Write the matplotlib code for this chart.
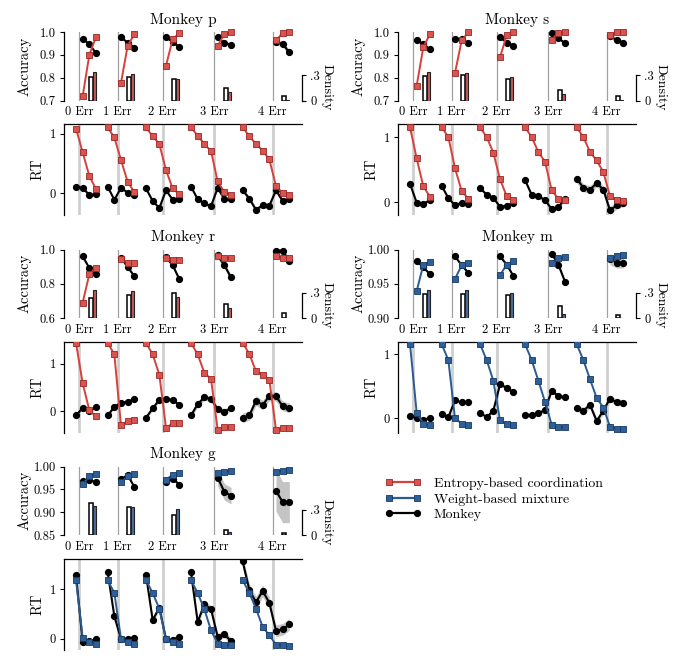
import matplotlib
matplotlib.use("Agg")
import matplotlib.pyplot as plt
import numpy as np
from matplotlib.lines import Line2D

plt.rcParams.update({
    "font.family": "serif",
    "font.serif": ["cmr10", "DejaVu Serif"],
    "mathtext.fontset": "cm",
    "axes.formatter.use_mathtext": True,
    "axes.unicode_minus": False,
    "axes.linewidth": 0.9,
})

# ── Data ─────────────────────────────────────────────────────────────────────
ERR_LABELS = ["0 Err", "1 Err", "2 Err", "3 Err", "4 Err"]

# Monkey p  (model: entropy-based coordination)
P_ACC_MODEL = [[0.719, 0.900, 0.978], [0.777, 0.940, 0.990], [0.852, 0.968, 0.996],
               [0.940, 0.990, 0.998], [0.963, 0.996, 0.998]]
P_ACC_MONKEY = [[0.970, 0.947, 0.907], [0.976, 0.954, 0.932], [0.978, 0.956, 0.933],
                [0.976, 0.951, 0.944], [0.956, 0.947, 0.911]]
P_ACC_SEM = [0.004, 0.004, 0.005, 0.006, 0.012]
P_DENS_MONKEY = [0.272, 0.280, 0.260, 0.148, 0.048]
P_DENS_MODEL = [0.340, 0.312, 0.260, 0.100, 0.010]
P_RT_MODEL = [[1.09, 0.69, 0.29, 0.07],
              [1.11, 0.94, 0.56, 0.19, 0.02],
              [1.11, 0.96, 0.83, 0.39, 0.08, -0.02],
              [1.11, 0.97, 0.83, 0.71, 0.20, 0.02, -0.03],
              [1.11, 0.96, 0.83, 0.72, 0.57, 0.12, 0.00, -0.03]]
P_RT_MONKEY = [[0.11, 0.09, -0.03, -0.02],
               [0.11, -0.11, 0.09, 0.01, -0.03],
               [0.08, -0.13, -0.25, 0.05, -0.11, -0.09],
               [0.11, -0.10, -0.17, -0.22, 0.09, -0.10, -0.10],
               [0.05, -0.09, -0.28, -0.20, -0.21, 0.05, -0.13, -0.09]]
P_RT_SEM = [0.02, 0.02, 0.02, 0.03, 0.04]

# Monkey s  (entropy-based)
S_ACC_MODEL = [[0.764, 0.934, 0.991], [0.821, 0.963, 0.999], [0.889, 0.985, 0.999],
               [0.966, 0.996, 0.999], [0.985, 0.999, 0.999]]
S_ACC_MONKEY = [[0.966, 0.947, 0.925], [0.970, 0.970, 0.951], [0.978, 0.954, 0.940],
                [0.996, 0.973, 0.951], [0.984, 0.963, 0.954]]
S_ACC_SEM = [0.004, 0.004, 0.005, 0.006, 0.010]
S_DENS_MONKEY = [0.292, 0.300, 0.252, 0.120, 0.048]
S_DENS_MODEL = [0.332, 0.320, 0.272, 0.080, 0.005]
S_RT_MODEL = [[1.15, 0.67, 0.24, 0.08],
              [1.15, 1.00, 0.52, 0.17, 0.05],
              [1.15, 1.00, 0.76, 0.35, 0.09, 0.03],
              [1.15, 1.00, 0.77, 0.62, 0.18, 0.05, 0.03],
              [1.15, 1.00, 0.77, 0.64, 0.46, 0.09, 0.03, 0.02]]
S_RT_MONKEY = [[0.28, -0.01, -0.03, 0.03],
               [0.25, 0.06, -0.05, -0.01, -0.03],
               [0.22, 0.11, 0.06, -0.07, -0.06, -0.01],
               [0.34, 0.11, 0.09, 0.03, -0.11, -0.08, 0.05],
               [0.36, 0.22, 0.19, 0.29, 0.19, -0.13, -0.05, -0.01]]
S_RT_SEM = [0.02, 0.02, 0.02, 0.03, 0.06]

# Monkey r  (entropy-based)
R_ACC_MODEL = [[0.690, 0.856, 0.894], [0.942, 0.921, 0.921], [0.952, 0.937, 0.937],
               [0.960, 0.950, 0.950], [0.962, 0.952, 0.952]]
R_ACC_MONKEY = [[0.960, 0.892, 0.856], [0.952, 0.898, 0.844], [0.956, 0.908, 0.827],
                [0.965, 0.908, 0.837], [0.994, 0.994, 0.931]]
R_ACC_SEM = [0.006, 0.010, 0.012, 0.016, 0.012]
R_DENS_MONKEY = [0.242, 0.277, 0.296, 0.162, 0.058]
R_DENS_MODEL = [0.335, 0.319, 0.250, 0.115, 0.005]
R_RT_MODEL = [[1.44, 0.59, 0.02, -0.11],
              [1.44, 1.20, -0.30, -0.21, -0.19],
              [1.44, 1.20, 0.77, -0.35, -0.26, -0.26],
              [1.44, 1.20, 0.81, 0.68, -0.39, -0.34, -0.34],
              [1.44, 1.21, 0.84, 0.77, 0.66, -0.39, -0.35, -0.35]]
R_RT_MONKEY = [[-0.09, 0.07, 0.00, 0.08],
               [-0.09, 0.09, 0.18, 0.20, 0.25],
               [-0.14, 0.06, 0.24, 0.25, 0.24, 0.13],
               [-0.09, 0.15, 0.29, 0.26, 0.04, -0.01, 0.06],
               [-0.14, -0.09, 0.22, 0.13, 0.32, 0.31, 0.11, 0.07]]
R_RT_SEM = [0.02, 0.03, 0.04, 0.06, 0.10]

# Monkey m  (model: weight-based mixture)
M_ACC_MODEL = [[0.939, 0.978, 0.982], [0.957, 0.977, 0.980], [0.9625, 0.978, 0.983],
               [0.981, 0.987, 0.989], [0.987, 0.990, 0.992]]
M_ACC_MONKEY = [[0.983, 0.974, 0.964], [0.990, 0.977, 0.966], [0.990, 0.978, 0.9615],
                [0.994, 0.978, 0.953], [0.9856, 0.981, 0.981]]
M_ACC_SEM = [0.0015, 0.002, 0.0025, 0.004, 0.008]
M_DENS_MONKEY = [0.288, 0.288, 0.270, 0.142, 0.031]
M_DENS_MODEL = [0.335, 0.327, 0.296, 0.050, 0.003]
M_RT_MODEL = [[1.16, 0.09, -0.08, -0.11],
              [1.16, 0.91, 0.00, -0.08, -0.10],
              [1.16, 0.91, 0.59, -0.03, -0.09, -0.11],
              [1.16, 0.91, 0.59, 0.26, -0.10, -0.13, -0.14],
              [1.16, 0.91, 0.61, 0.32, 0.17, -0.13, -0.16, -0.16]]
M_RT_MONKEY = [[0.04, 0.01, -0.02, 0.01],
               [0.07, 0.02, 0.28, 0.25, 0.26],
               [0.09, 0.02, 0.12, 0.53, 0.48, 0.41],
               [0.06, 0.05, 0.08, 0.13, 0.43, 0.35, 0.33],
               [0.16, 0.12, 0.21, -0.04, 0.12, 0.31, 0.25, 0.24]]
M_RT_SEM = [0.015, 0.02, 0.02, 0.03, 0.05]

# Monkey g  (weight-based)
G_ACC_MODEL = [[0.9606, 0.9785, 0.984], [0.965, 0.979, 0.984], [0.971, 0.982, 0.9856],
               [0.9856, 0.989, 0.991], [0.989, 0.991, 0.9928]]
G_ACC_MONKEY = [[0.968, 0.971, 0.965], [0.972, 0.981, 0.9555], [0.965, 0.9734, 0.9605],
                [0.9756, 0.9447, 0.936], [0.947, 0.922, 0.922]]
G_ACC_SEM = [0.002, 0.003, 0.003, 0.018, 0.045]
G_DENS_MONKEY = [0.377, 0.327, 0.241, 0.058, 0.019]
G_DENS_MODEL = [0.339, 0.331, 0.311, 0.039, 0.003]
G_RT_MODEL = [[1.19, 0.02, -0.07, -0.10],
              [1.19, 0.93, 0.00, -0.07, -0.10],
              [1.19, 0.93, 0.61, -0.01, -0.07, -0.10],
              [1.19, 0.93, 0.60, 0.17, -0.10, -0.12, -0.13],
              [1.19, 0.93, 0.61, 0.24, 0.07, -0.12, -0.13, -0.15]]
G_RT_MONKEY = [[1.29, -0.07, -0.05, -0.01],
               [1.35, 0.46, -0.01, 0.00, 0.02],
               [1.30, 0.38, 0.63, -0.01, -0.03, 0.04],
               [1.35, 0.34, 0.70, 0.60, 0.04, 0.09, -0.05],
               [1.57, 0.99, 0.74, 0.97, 0.73, 0.16, 0.19, 0.29]]
G_RT_SEM = [0.03, 0.04, 0.05, 0.07, 0.12]

# ── Style ─────────────────────────────────────────────────────────────────────
C_RED = "#d8403c"
C_RED_FACE = "#d9534f"
C_RED_EDGE = "#9a2624"
C_RED_BAR = "#c55a56"
C_BLUE = "#2b5b93"
C_BLUE_FACE = "#2f5f98"
C_BLUE_EDGE = "#173a63"
C_BLUE_BAR = "#4c6f9c"
C_BAND = "#c4c4c4"

TICK_FS = 9
LABEL_FS = 10.5
TITLE_FS = 11

XLIM = (-2.3, 33.4)
DENS_TOP = 0.81

# group separator positions (vertical lines); each group widens by one trial
OFFSETS = [0.0]
for k in range(4):
    OFFSETS.append(OFFSETS[-1] + k + 5.75)

W_FIG, H_FIG = 678, 663


def px_axes(left, top, width, height):
    return [left / W_FIG, 1 - (top + height) / H_FIG, width / W_FIG, height / H_FIG]


def model_style(kind):
    if kind == "entropy":
        return dict(color=C_RED, mfc=C_RED_FACE, mec=C_RED_EDGE), C_RED_BAR
    return dict(color=C_BLUE, mfc=C_BLUE_FACE, mec=C_BLUE_EDGE), C_BLUE_BAR


def draw_monkey(left, top, name, kind, acc_model, acc_monkey, acc_sem,
                dens_monkey, dens_model, rt_model, rt_monkey, rt_sem,
                acc_ylim, acc_ticks, acc_ticklabels, rt_ylim, fig):
    width = 238
    lstyle, bar_color = model_style(kind)

    # ── Accuracy panel ───────────────────────────────────────────────────────
    ax = fig.add_axes(px_axes(left, top, width, 68.5))
    ax2 = ax.twinx()
    ax.set_zorder(ax2.get_zorder() + 1)
    ax.patch.set_visible(False)

    for k, o in enumerate(OFFSETS):
        ax.axvline(o, color="#a0a0a0", lw=0.9, zorder=0)
        xs = o + np.array([0.5, 1.5, 2.5])
        m = np.array(acc_monkey[k])
        ax.fill_between(xs, m - acc_sem[k], m + acc_sem[k], color=C_BAND,
                        lw=0, zorder=1)
        ax.plot(xs, m, "-o", color="black", ms=4.2, lw=1.5, zorder=3,
                clip_on=False)
        ax.plot(xs, acc_model[k], "-s", ms=4.3, lw=1.4, mew=0.6, zorder=4,
                clip_on=False, **lstyle)

        ax2.bar(o + 1.72, dens_monkey[k], width=0.52, color="white",
                edgecolor="black", lw=1.1, zorder=2)
        ax2.bar(o + 2.24, dens_model[k], width=0.52, color=bar_color,
                edgecolor="#222222", lw=0.8, zorder=2)

    ax.set_xlim(*XLIM)
    ax.set_ylim(*acc_ylim)
    ax.set_yticks(acc_ticks)
    ax.set_yticklabels(acc_ticklabels)
    ax.set_xticks(OFFSETS)
    ax.set_xticklabels(ERR_LABELS)
    ax.tick_params(axis="x", length=0, pad=4, labelsize=TICK_FS)
    ax.tick_params(axis="y", length=3, width=0.8, pad=3, labelsize=TICK_FS)
    for s in ["top", "right", "bottom"]:
        ax.spines[s].set_visible(False)
    ax.set_ylabel("Accuracy", fontsize=LABEL_FS)
    ax.yaxis.set_label_coords(-0.135, 0.5)
    ax.set_title(f"Monkey {name}", fontsize=TITLE_FS, pad=6)

    ax2.set_xlim(*XLIM)
    ax2.set_ylim(0, DENS_TOP)
    for s in ["top", "left", "bottom"]:
        ax2.spines[s].set_visible(False)
    ax2.spines["right"].set_bounds(0, 0.3)
    ax2.set_yticks([0, 0.3])
    ax2.set_yticklabels(["0", ".3"])
    ax2.tick_params(axis="y", length=3, width=0.8, pad=3, labelsize=TICK_FS)
    ax2.set_ylabel("Density", fontsize=LABEL_FS - 0.5, rotation=270,
                   va="bottom")
    ax2.yaxis.set_label_coords(1.08, 0.19)

    # ── RT panel ─────────────────────────────────────────────────────────────
    axr = fig.add_axes(px_axes(left, top + 92, width, 91))
    for k, o in enumerate(OFFSETS):
        axr.axvline(o, color="#cfcfcf", lw=2.0, zorder=0)
        xs = o + np.arange(-(k + 1), 3) + 0.5
        m = np.array(rt_monkey[k])
        axr.fill_between(xs, m - rt_sem[k], m + rt_sem[k], color=C_BAND,
                         lw=0, zorder=1)
        axr.plot(xs, m, "-o", color="black", ms=4.2, lw=1.5, zorder=3)
        axr.plot(xs, rt_model[k], "-s", ms=4.3, lw=1.4, mew=0.6, zorder=4,
                 **lstyle)

    axr.set_xlim(*XLIM)
    axr.set_ylim(*rt_ylim)
    axr.set_xticks([])
    axr.set_yticks([0, 1])
    axr.set_yticklabels(["0", "1"])
    axr.tick_params(axis="y", length=3, width=0.8, pad=3, labelsize=TICK_FS)
    for s in ["right", "bottom"]:
        axr.spines[s].set_visible(False)
    axr.set_ylabel("RT", fontsize=LABEL_FS)
    axr.yaxis.set_label_coords(-0.08, 0.5)


fig = plt.figure(figsize=(6.78, 6.63), dpi=100)
fig.patch.set_facecolor("white")

LEFT_A, LEFT_B = 64, 398

draw_monkey(LEFT_A, 32, "p", "entropy", P_ACC_MODEL, P_ACC_MONKEY, P_ACC_SEM,
            P_DENS_MONKEY, P_DENS_MODEL, P_RT_MODEL, P_RT_MONKEY, P_RT_SEM,
            (0.7, 1.0), [0.7, 0.8, 0.9, 1.0], ["0.7", "0.8", "0.9", "1.0"],
            (-0.367, 1.167), fig)
draw_monkey(LEFT_B, 32, "s", "entropy", S_ACC_MODEL, S_ACC_MONKEY, S_ACC_SEM,
            S_DENS_MONKEY, S_DENS_MODEL, S_RT_MODEL, S_RT_MONKEY, S_RT_SEM,
            (0.7, 1.0), [0.7, 0.8, 0.9, 1.0], ["0.7", "0.8", "0.9", "1.0"],
            (-0.2, 1.2), fig)
draw_monkey(LEFT_A, 249.5, "r", "entropy", R_ACC_MODEL, R_ACC_MONKEY, R_ACC_SEM,
            R_DENS_MONKEY, R_DENS_MODEL, R_RT_MODEL, R_RT_MONKEY, R_RT_SEM,
            (0.6, 1.0), [0.6, 0.8, 1.0], ["0.6", "0.8", "1.0"],
            (-0.45, 1.47), fig)
draw_monkey(LEFT_B, 249.5, "m", "weight", M_ACC_MODEL, M_ACC_MONKEY, M_ACC_SEM,
            M_DENS_MONKEY, M_DENS_MODEL, M_RT_MODEL, M_RT_MONKEY, M_RT_SEM,
            (0.9, 1.0), [0.90, 0.95, 1.00], ["0.90", "0.95", "1.00"],
            (-0.22, 1.2), fig)
draw_monkey(LEFT_A, 466.5, "g", "weight", G_ACC_MODEL, G_ACC_MONKEY, G_ACC_SEM,
            G_DENS_MONKEY, G_DENS_MODEL, G_RT_MODEL, G_RT_MONKEY, G_RT_SEM,
            (0.85, 1.0), [0.85, 0.90, 0.95, 1.00], ["0.85", "0.90", "0.95", "1.00"],
            (-0.22, 1.63), fig)

# ── Legend ────────────────────────────────────────────────────────────────────
handles = [
    Line2D([], [], color=C_RED, marker="s", mfc=C_RED_FACE, mec=C_RED_EDGE,
           ms=4.3, lw=1.6, mew=0.6),
    Line2D([], [], color=C_BLUE, marker="s", mfc=C_BLUE_FACE, mec=C_BLUE_EDGE,
           ms=4.3, lw=1.6, mew=0.6),
    Line2D([], [], color="black", marker="o", ms=4.2, lw=1.6),
]
labels = ["Entropy-based coordination", "Weight-based mixture", "Monkey"]
fig.legend(handles, labels, loc="upper left",
           bbox_to_anchor=(385 / W_FIG, 1 - 477 / H_FIG),
           frameon=False, fontsize=10, numpoints=2, handlelength=2.6,
           handletextpad=0.9, labelspacing=0.22, borderpad=0,
           borderaxespad=0)

fig.savefig("out.png", dpi=100, facecolor="white")
